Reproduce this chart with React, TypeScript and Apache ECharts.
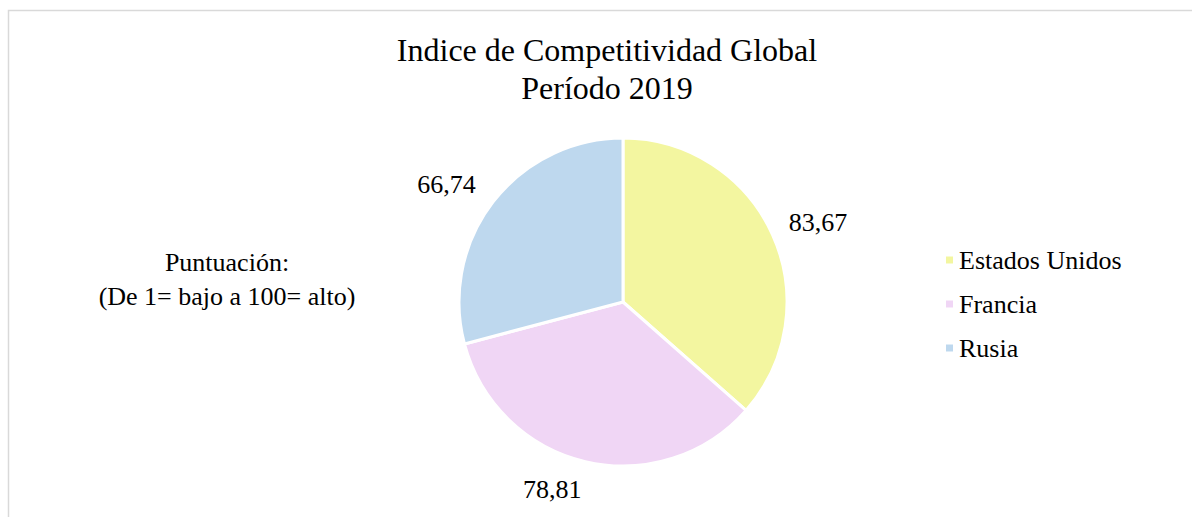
import React, { useEffect, useRef } from "react";
import * as echarts from "echarts";

const titleLines = ["Indice de Competitividad Global", "Período 2019"];
const sideLines = ["Puntuación:", "(De 1= bajo a 100= alto)"];
const countries = ["Estados Unidos", "Francia", "Rusia"];
const scores = [83.67, 78.81, 66.74];
const colors = ["#f3f6a0", "#f0d6f5", "#bed8ee"];
// per-slice label offsets (label line lengths, line hidden)
const labelLen = [30, 29, 28];
const labelLen2 = [-16, -8, -10];

const FONT = "'Liberation Serif', 'Times New Roman', serif";

export default function App() {
  const ref = useRef<HTMLDivElement>(null);
  useEffect(() => {
    if (!ref.current) return;
    const chart = echarts.init(ref.current, undefined, { renderer: "svg" });
    const data = countries.map((name, i) => ({
      name,
      value: scores[i],
      itemStyle: { color: colors[i] },
      labelLine: { show: true, length: labelLen[i], length2: labelLen2[i], lineStyle: { opacity: 0 } },
    }));
    chart.setOption({
      animation: false,
      backgroundColor: "#ffffff",
      graphic: [
        {
          type: "rect",
          shape: { x: 8.5, y: 10.5, width: 1400, height: 700 },
          style: { fill: "none", stroke: "#d9d9d9", lineWidth: 1.5 },
          silent: true,
        },
        {
          type: "text",
          style: {
            text: titleLines.join("\n"),
            x: 607,
            y: 69,
            align: "center",
            verticalAlign: "middle",
            fontSize: 32,
            lineHeight: 38,
            fontFamily: FONT,
            fill: "#000",
          },
        },
        {
          type: "text",
          style: {
            text: sideLines.join("\n"),
            x: 227,
            y: 279,
            align: "center",
            verticalAlign: "middle",
            fontSize: 26,
            lineHeight: 34,
            fontFamily: FONT,
            fill: "#000",
          },
        },
      ],
      legend: {
        orient: "vertical",
        left: 939,
        top: 242,
        itemWidth: 9,
        itemHeight: 9,
        itemGap: 18,
        icon: "rect",
        data: countries,
        textStyle: { fontSize: 26, lineHeight: 26, fontFamily: FONT, color: "#000" },
      },
      series: [
        {
          type: "pie",
          center: [623, 302],
          radius: 164,
          startAngle: 90,
          clockwise: true,
          avoidLabelOverlap: false,
          itemStyle: { borderColor: "#ffffff", borderWidth: 3 },
          label: {
            show: true,
            position: "outside",
            fontSize: 26,
            fontFamily: FONT,
            color: "#000",
            formatter: (p: any) => p.value.toFixed(2).replace(".", ","),
          },
          emphasis: { disabled: true },
          data,
        },
      ],
    });
    return () => chart.dispose();
  }, []);
  return (
    <div
      ref={ref}
      style={{ position: "absolute", left: 0, top: 0, width: 1192, height: 517 }}
    />
  );
}
